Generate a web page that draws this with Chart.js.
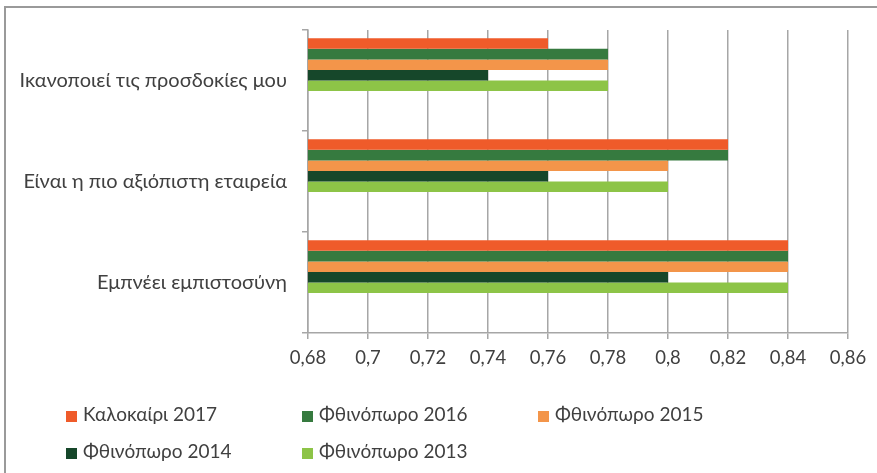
<!DOCTYPE html>
<html>
<head>
<meta charset="utf-8">
<script src="https://cdn.jsdelivr.net/npm/chart.js@4/dist/chart.umd.min.js"></script>
<style>
  html, body { margin: 0; padding: 0; background: #fff; overflow: hidden; width: 877px; height: 473px; }
  #wrap { position: absolute; left: 0; top: 0; width: 877px; height: 473px; }
  #frame { position: absolute; left: 4px; top: 6px; width: 900px; height: 500px; border: 2px solid #9a9a9a; box-sizing: border-box; pointer-events: none; }
  .lg { position: absolute; font-family: Lato, "Open Sans", sans-serif; font-size: 19px; color: #404040; white-space: nowrap; line-height: 20px; }
  .lg span.sw { display: inline-block; width: 11px; height: 11px; margin-right: 6px; vertical-align: -1px; }
</style>
</head>
<body>
<div id="wrap"><canvas id="c" width="877" height="473"></canvas></div>
<div id="frame"></div>
<div id="legend"></div>
<script>
const categories = ['Ικανοποιεί τις προσδοκίες μου', 'Είναι η πιο αξιόπιστη εταιρεία', 'Εμπνέει εμπιστοσύνη'];
const seriesNames = ['Καλοκαίρι 2017', 'Φθινόπωρο 2016', 'Φθινόπωρο 2015', 'Φθινόπωρο 2014', 'Φθινόπωρο 2013'];
const summer2017 = [0.76, 0.82, 0.84];
const autumn2016 = [0.78, 0.82, 0.84];
const autumn2015 = [0.78, 0.80, 0.84];
const autumn2014 = [0.74, 0.76, 0.80];
const autumn2013 = [0.78, 0.80, 0.84];
const xTickLabels = ['0,68', '0,7', '0,72', '0,74', '0,76', '0,78', '0,8', '0,82', '0,84', '0,86'];
const seriesColors = ['#EF5B2A', '#367A3F', '#F3954A', '#16472A', '#8DC447'];

const seriesValues = [summer2017, autumn2016, autumn2015, autumn2014, autumn2013];
const datasets = seriesValues.map((vals, i) => ({
  label: seriesNames[i], data: vals, backgroundColor: seriesColors[i], borderWidth: 0,
  barPercentage: 1, categoryPercentage: 0.835
}));
// three empty slots (as in the source chart's layout) keep the bar groups offset upward
for (let k = 0; k < 3; k++) {
  datasets.push({ label: '', data: [null, null, null], backgroundColor: 'rgba(0,0,0,0)', barPercentage: 1, categoryPercentage: 0.835 });
}

const FAMILY = 'Lato, "Open Sans", sans-serif';
const GRID = '#a6a6a6';

new Chart(document.getElementById('c'), {
  type: 'bar',
  data: { labels: categories, datasets },
  options: {
    indexAxis: 'y',
    responsive: false,
    animation: false,
    devicePixelRatio: 1,
    layout: { padding: { left: 0, top: 30, right: 29, bottom: 0 } },
    plugins: { legend: { display: false }, tooltip: { enabled: false } },
    scales: {
      x: {
        type: 'linear', min: 0.68, max: 0.86,
        ticks: { stepSize: 0.02, color: '#404040', font: { family: FAMILY, size: 18.5 }, padding: 8,
          callback: (v, i) => xTickLabels[i] },
        grid: { color: GRID, lineWidth: 1.5, tickLength: 6, drawTicks: true },
        border: { color: GRID, width: 1.5 },
        afterFit: s => { s.height = 140; }
      },
      y: {
        ticks: { color: '#404040', font: { family: FAMILY, size: 20 }, padding: 15 },
        grid: { drawOnChartArea: false, color: GRID, lineWidth: 1.5, tickLength: 6, offset: true },
        border: { color: GRID, width: 1.5 },
        afterFit: s => { s.width = 308; }
      }
    }
  }
});

// legend (3 columns, Excel-style)
const legend = document.getElementById('legend');
const colX = [66, 302, 538];
const rowY = [404, 441];
seriesNames.forEach((name, i) => {
  const d = document.createElement('div');
  d.className = 'lg';
  d.style.left = colX[i % 3] + 'px';
  d.style.top = rowY[Math.floor(i / 3)] + 'px';
  d.innerHTML = '<span class="sw" style="background:' + seriesColors[i] + '"></span>' + name;
  legend.appendChild(d);
});
</script>
</body>
</html>
